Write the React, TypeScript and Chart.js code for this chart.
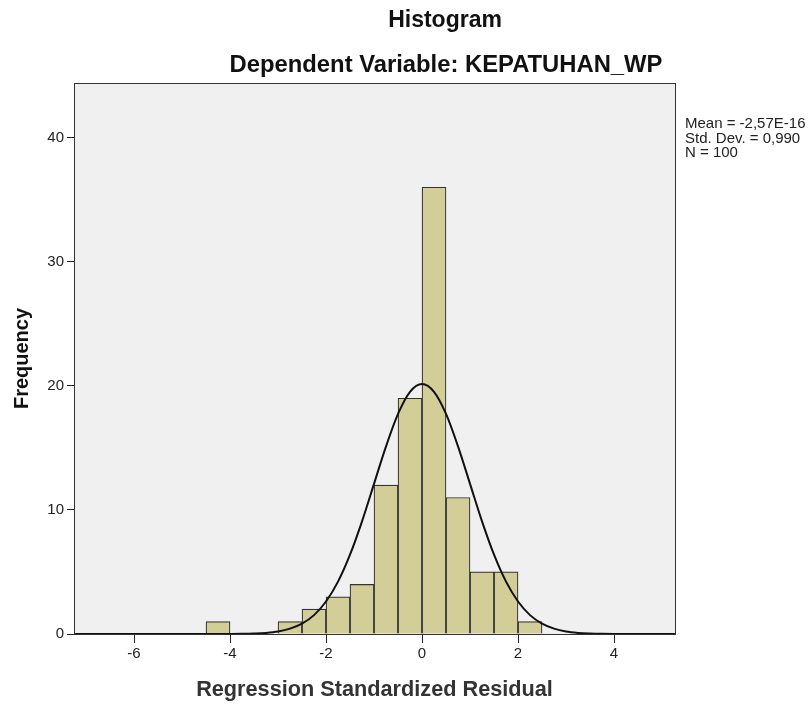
import React, { useEffect, useRef } from "react";
import { Chart, registerables } from "chart.js";

Chart.register(...registerables);

// ---- data ----
const binStarts = [-4.5, -3.0, -2.5, -2.0, -1.5, -1.0, -0.5, 0.0, 0.5, 1.0, 1.5, 2.0];
const binWidth = 0.5;
const frequencies = [1, 1, 2, 3, 4, 12, 19, 36, 11, 5, 5, 1];

const curveX = [
  -7.25, -5.0, -4.5, -4.0, -3.75, -3.5, -3.25, -3.0, -2.75, -2.5, -2.25, -2.0, -1.75, -1.5, -1.25, -1.0,
  -0.75, -0.5, -0.25, 0.0, 0.25, 0.5, 0.75, 1.0, 1.25, 1.5, 1.75, 2.0, 2.25, 2.5, 2.75, 3.0, 3.25, 3.5,
  3.75, 4.0, 4.5, 5.27,
];
const curveY = [
  0, 0, 0.001, 0.006, 0.015, 0.04, 0.09, 0.2, 0.43, 0.83, 1.52, 2.62, 4.22, 6.39, 9.08, 12.1,
  15.12, 17.74, 19.52, 20.15, 19.52, 17.74, 15.12, 12.1, 9.08, 6.39, 4.22, 2.62, 1.52, 0.83, 0.43, 0.2, 0.09, 0.04,
  0.015, 0.006, 0.001, 0,
];

const xTicks = [-6, -4, -2, 0, 2, 4];
const yTicks = [0, 10, 20, 30, 40];
const xRange = [-7.25, 5.27];
const yRange = [0, 44.4];

const titleText = "Histogram";
const subtitleText = "Dependent Variable: KEPATUHAN_WP";
const xTitle = "Regression Standardized Residual";
const yTitle = "Frequency";
const statsLines = ["Mean = -2,57E-16", "Std. Dev. = 0,990", "N = 100"];

const FONT = '"Liberation Sans", Arial, sans-serif';

export default function App() {
  const canvasRef = useRef<HTMLCanvasElement | null>(null);

  useEffect(() => {
    const canvas = canvasRef.current;
    if (!canvas) return;

    const barData = binStarts.map((s, i) => ({ x: s + binWidth / 2, y: frequencies[i] }));
    const lineData = curveX.map((x, i) => ({ x, y: curveY[i] }));

    const decor = {
      id: "decor",
      beforeDraw(chart: any) {
        const { ctx, chartArea } = chart;
        ctx.save();
        ctx.fillStyle = "#ffffff";
        ctx.fillRect(0, 0, chart.width, chart.height);
        ctx.fillStyle = "#f0f0f0";
        ctx.fillRect(chartArea.left, chartArea.top, chartArea.right - chartArea.left, chartArea.bottom - chartArea.top);
        ctx.restore();
      },
      afterDraw(chart: any) {
        const { ctx, chartArea } = chart;
        ctx.save();
        ctx.strokeStyle = "#333333";
        ctx.lineWidth = 1;
        ctx.strokeRect(
          Math.round(chartArea.left) + 0.5,
          Math.round(chartArea.top) + 0.5,
          Math.round(chartArea.right - chartArea.left),
          Math.round(chartArea.bottom - chartArea.top)
        );
        ctx.fillStyle = "#111111";
        ctx.textAlign = "center";
        ctx.textBaseline = "middle";
        ctx.font = `bold 23px ${FONT}`;
        ctx.fillText(titleText, 445, 21);
        ctx.font = `bold 23.8px ${FONT}`;
        ctx.fillText(subtitleText, 446, 65);
        ctx.font = `15px ${FONT}`;
        ctx.textAlign = "left";
        ctx.fillStyle = "#222222";
        statsLines.forEach((t, i) => ctx.fillText(t, 685, 124 + i * 14.5));
        ctx.restore();
      },
    };

    const chart = new Chart(canvas, {
      type: "bar",
      data: {
        datasets: [
          {
            type: "line",
            data: lineData,
            borderColor: "#111111",
            borderWidth: 2,
            pointRadius: 0,
            fill: false,
            cubicInterpolationMode: "monotone",
            order: 0,
          } as any,
          {
            type: "bar",
            data: barData,
            backgroundColor: "#d3ce97",
            borderColor: "#333333",
            borderWidth: 1.2,
            barPercentage: 1,
            categoryPercentage: 1,
            order: 1,
          } as any,
        ],
      },
      options: {
        responsive: false,
        animation: false,
        layout: { padding: { left: 8, top: 83, right: 137, bottom: 0 } },
        plugins: { legend: { display: false }, tooltip: { enabled: false }, title: { display: false } },
        scales: {
          x: {
            type: "linear",
            min: xRange[0],
            max: xRange[1],
            offset: false,
            afterBuildTicks: (scale: any) => {
              scale.ticks = xTicks.map((v) => ({ value: v }));
            },
            afterFit: (scale: any) => {
              scale.height = 70;
            },
            grid: {
              display: true,
              offset: false,
              drawOnChartArea: false,
              drawTicks: true,
              tickLength: 9,
              tickColor: "#222222",
            },
            border: { display: true, color: "#222222", width: 1 },
            ticks: { color: "#222222", font: { family: FONT, size: 15 }, padding: 2, maxRotation: 0 },
            title: {
              display: true,
              text: xTitle,
              color: "#333333",
              font: { family: FONT, size: 21.7, weight: "bold" },
              padding: { top: 0, bottom: 1 },
            },
          },
          y: {
            type: "linear",
            min: yRange[0],
            max: yRange[1],
            afterBuildTicks: (scale: any) => {
              scale.ticks = yTicks.map((v) => ({ value: v }));
            },
            afterFit: (scale: any) => {
              scale.width = 66;
            },
            grid: {
              display: true,
              drawOnChartArea: false,
              drawTicks: true,
              tickLength: 7,
              tickColor: "#222222",
            },
            border: { display: true, color: "#222222", width: 1 },
            ticks: { color: "#222222", font: { family: FONT, size: 15 }, padding: 3 },
            title: {
              display: true,
              text: yTitle,
              color: "#111111",
              font: { family: FONT, size: 20, weight: "bold" },
              padding: { top: 2, bottom: 0 },
            },
          },
        },
      } as any,
      plugins: [decor],
    });

    return () => chart.destroy();
  }, []);

  return (
    <div style={{ position: "fixed", left: 0, top: 0, width: 812, height: 704, background: "#fff" }}>
      <canvas ref={canvasRef} width={812} height={704} style={{ display: "block", width: 812, height: 704 }} />
    </div>
  );
}
